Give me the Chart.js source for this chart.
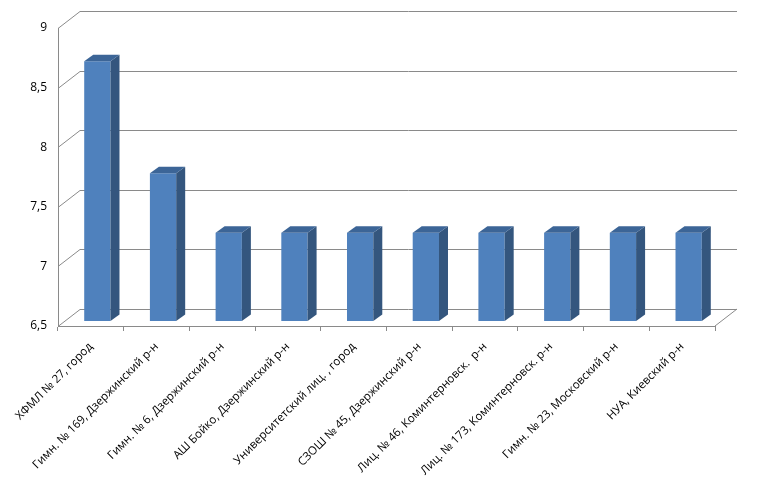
<!DOCTYPE html>
<html>
<head>
<meta charset="utf-8">
<script src="https://cdn.jsdelivr.net/npm/chart.js@4"></script>
<style>
  html, body { margin: 0; padding: 0; background: #fff; }
</style>
</head>
<body>
<canvas id="school-chart" width="766" height="484"></canvas>
<script>
const schools = [
  "ХФМЛ № 27, город",
  "Гимн. № 169, Дзержинский р-н",
  "Гимн. № 6, Дзержинский р-н",
  "АШ Бойко, Дзержинский р-н",
  "Университетский лиц. , город",
  "СЗОШ № 45, Дзержинский р-н",
  "Лиц. № 46, Коминтерновск.  р-н",
  "Лиц. № 173, Коминтерновск. р-н",
  "Гимн. № 23, Московский р-н",
  "НУА, Киевский р-н",
];
const scores = [8.68, 7.74, 7.24, 7.24, 7.24, 7.24, 7.24, 7.24, 7.24, 7.24];
const yMin = 6.5;
const yMax = 9;
const yStep = 0.5;

const schoolChart = document.getElementById("school-chart");
const gridColor = "#8a8a8a";

// fake 3d: back wall offset, bar position in depth and bar depth
const wall = { dx: 22, dy: 17 };
const barShift = { dx: 6.5, dy: 5 };
const barDepth = { dx: 9, dy: 6.5 };

const pseudo3d = {
  id: "pseudo3d",
  beforeDatasetsDraw(chart) {
    const { ctx, chartArea: a, scales } = chart;
    ctx.save();
    ctx.strokeStyle = gridColor;
    ctx.lineWidth = 1;
    scales.y.ticks.forEach((t) => {
      const py = Math.round(scales.y.getPixelForValue(t.value)) + 0.5;
      ctx.beginPath();
      ctx.moveTo(a.left, py);
      ctx.lineTo(a.left + wall.dx, py - wall.dy);
      ctx.lineTo(a.right + wall.dx, py - wall.dy);
      ctx.stroke();
    });
    ctx.beginPath();
    ctx.moveTo(a.right, a.bottom);
    ctx.lineTo(a.right + wall.dx, a.bottom - wall.dy);
    ctx.stroke();
    ctx.restore();

    ctx.save();
    ctx.translate(barShift.dx, -barShift.dy);
  },
  afterDatasetsDraw(chart) {
    const { ctx, scales } = chart;
    const base = scales.y.getPixelForValue(yMin);
    const meta = chart.getDatasetMeta(0);
    meta.data.forEach((bar) => {
      const { x, y, width } = bar.getProps(["x", "y", "width"], true);
      const left = x - width / 2;
      const right = x + width / 2;
      // side
      ctx.fillStyle = "#34567e";
      ctx.beginPath();
      ctx.moveTo(right, y);
      ctx.lineTo(right + barDepth.dx, y - barDepth.dy);
      ctx.lineTo(right + barDepth.dx, base - barDepth.dy);
      ctx.lineTo(right, base);
      ctx.closePath();
      ctx.fill();
      // top
      ctx.fillStyle = "#3c6597";
      ctx.beginPath();
      ctx.moveTo(left, y);
      ctx.lineTo(left + barDepth.dx, y - barDepth.dy);
      ctx.lineTo(right + barDepth.dx, y - barDepth.dy);
      ctx.lineTo(right, y);
      ctx.closePath();
      ctx.fill();
    });
    ctx.restore();
  },
};

new Chart(schoolChart, {
  type: "bar",
  data: {
    labels: schools,
    datasets: [
      {
        data: scores,
        backgroundColor: "#4f81bd",
        borderWidth: 0,
        barPercentage: 0.4,
        categoryPercentage: 1,
      },
    ],
  },
  options: {
    responsive: false,
    animation: false,
    events: [],
    layout: {
      padding: { top: 28, right: 51, left: 0, bottom: 0 },
    },
    plugins: {
      legend: { display: false },
      tooltip: { enabled: false },
    },
    font: { family: "'Open Sans', sans-serif" },
    scales: {
      x: {
        offset: true,
        grid: {
          offset: true,
          drawOnChartArea: false,
          tickLength: 5,
          color: gridColor,
        },
        border: { color: gridColor },
        ticks: {
          autoSkip: false,
          maxRotation: 45,
          minRotation: 45,
          padding: 9,
          color: "#000",
          font: { family: "'Open Sans', sans-serif", size: 11.5 },
        },
        afterFit(scale) {
          scale.height = 158;
          scale.paddingLeft = 0;
          scale.paddingRight = 0;
        },
      },
      y: {
        min: yMin,
        max: yMax,
        grid: { drawOnChartArea: false, drawTicks: false },
        border: { color: gridColor },
        ticks: {
          stepSize: yStep,
          padding: 11,
          color: "#000",
          font: { family: "'Open Sans', sans-serif", size: 12 },
          callback: (v) => String(v).replace(".", ","),
        },
        afterFit(scale) {
          scale.width = 58;
        },
      },
    },
  },
  plugins: [pseudo3d],
});
</script>
</body>
</html>
